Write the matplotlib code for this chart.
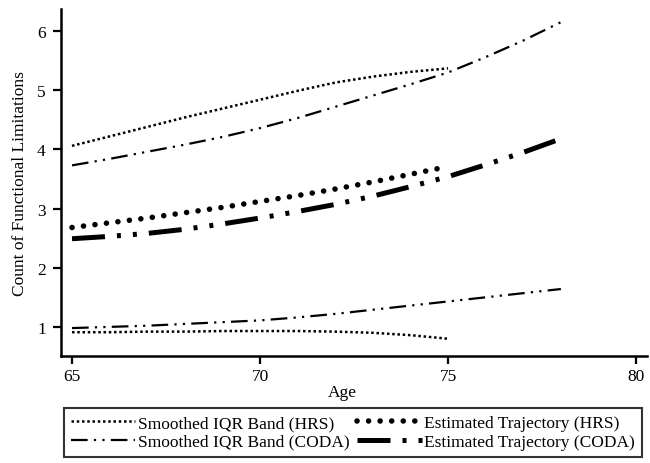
import matplotlib
matplotlib.use("Agg")
import matplotlib.pyplot as plt

plt.rcParams['font.family'] = ['Liberation Serif', 'DejaVu Serif']

ages_hrs = [65, 66, 67, 68, 69, 70, 71, 72, 73, 74, 75]
ages_coda = [65, 66, 67, 68, 69, 70, 71, 72, 73, 74, 75, 76, 77, 78]

hrs_upper = [4.06, 4.22, 4.38, 4.54, 4.69, 4.84, 4.99, 5.13, 5.23, 5.31, 5.37]
hrs_lower = [0.91, 0.91, 0.92, 0.92, 0.93, 0.93, 0.93, 0.92, 0.90, 0.86, 0.80]
hrs_traj = [2.68, 2.76, 2.84, 2.93, 3.02, 3.12, 3.22, 3.33, 3.45, 3.58, 3.71]

coda_upper = [3.73, 3.84, 3.96, 4.08, 4.21, 4.36, 4.53, 4.72, 4.91, 5.10, 5.30, 5.56, 5.84, 6.15]
coda_lower = [0.98, 1.00, 1.02, 1.05, 1.08, 1.11, 1.16, 1.22, 1.29, 1.36, 1.43, 1.50, 1.57, 1.64]
coda_traj = [2.49, 2.53, 2.58, 2.65, 2.74, 2.84, 2.95, 3.07, 3.21, 3.37, 3.54, 3.74, 3.95, 4.18]

xticks = [65, 70, 75, 80]
yticks = [1, 2, 3, 4, 5, 6]

FS = 12.5

fig = plt.figure(figsize=(6.5, 4.64), dpi=100)
ax = fig.add_axes([61/650, 1-357/464, (647-61)/650, (357-10)/464])

iqr_hrs_style = dict(color='black', lw=1.8, linestyle=(0, (1.0, 1.1)))
iqr_coda_style = dict(color='black', lw=1.6, linestyle=(0, (7.5, 2.8, 1, 2.8, 1, 2.8)))
traj_hrs_style = dict(color='black', lw=4.0, linestyle=(0, (0.01, 2.07)),
                      dash_capstyle='round')
traj_coda_style = dict(color='black', lw=3.6, linestyle=(0, (6.6, 2.4, 0.8, 2.4, 0.8, 2.4)),
                       dash_capstyle='butt')

l1, = ax.plot(ages_hrs, hrs_upper, label='Smoothed IQR Band (HRS)', **iqr_hrs_style)
ax.plot(ages_hrs, hrs_lower, **iqr_hrs_style)
l2, = ax.plot(ages_hrs, hrs_traj, label='Estimated Trajectory (HRS)', **traj_hrs_style)
l3, = ax.plot(ages_coda, coda_upper, label='Smoothed IQR Band (CODA)', **iqr_coda_style)
ax.plot(ages_coda, coda_lower, **iqr_coda_style)
l4, = ax.plot(ages_coda, coda_traj, label='Estimated Trajectory (CODA)', **traj_coda_style)

ax.set_xlim(64.707, 80.29)
ax.set_ylim(0.508, 6.373)
ax.set_xticks(xticks)
ax.set_yticks(yticks)
ax.spines['top'].set_visible(False)
ax.spines['right'].set_visible(False)
for s in ['left', 'bottom']:
    ax.spines[s].set_linewidth(1.8)
ax.tick_params(direction='out', length=5.5, width=1.6, labelsize=FS)
ax.tick_params(axis='x', pad=3.5)
ax.tick_params(axis='y', pad=5.5)

ax.set_xlabel('Age', fontsize=FS)
ax.xaxis.set_label_coords((342-61)/(647-61), -(385-357)/(357-10))
ax.set_ylabel('Count of Functional Limitations', fontsize=FS)
ax.yaxis.set_label_coords(-(61-28)/(647-61), 0.5)

leg = fig.legend(handles=[l1, l3, l2, l4], ncol=2, loc='upper center',
                 bbox_to_anchor=(353/650, 1-409/464), fontsize=FS,
                 frameon=True, fancybox=False, edgecolor='black',
                 handlelength=3.7, handletextpad=0.15, columnspacing=0.45,
                 borderpad=0.4, labelspacing=0.15, borderaxespad=0)
leg.get_frame().set_linewidth(1.5)

fig.savefig('out.png', dpi=100, facecolor='white')
